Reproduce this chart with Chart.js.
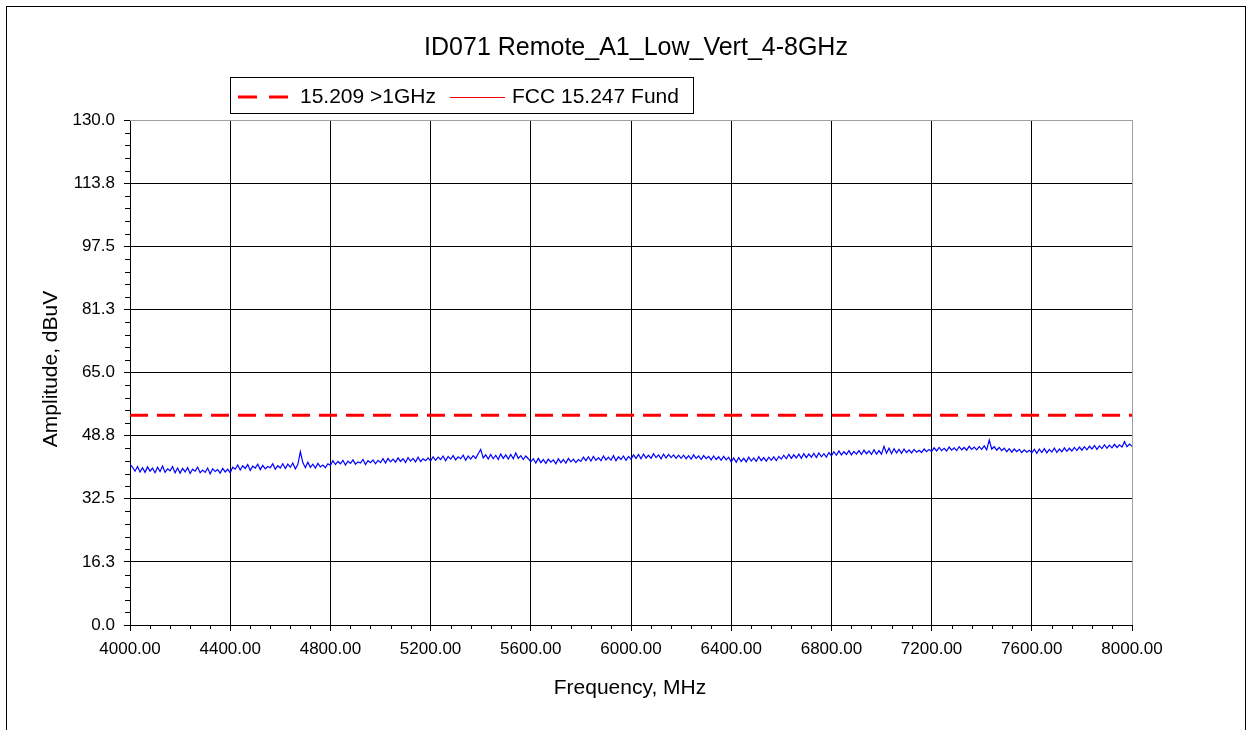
<!DOCTYPE html>
<html>
<head>
<meta charset="utf-8">
<script src="https://cdn.jsdelivr.net/npm/chart.js@4/dist/chart.umd.min.js"></script>
<style>
  body { margin: 0; background: #fff; }
  canvas { display: block; }
</style>
</head>
<body>
<canvas id="grafico" width="1252" height="730"></canvas>
<script>
const titulo = "ID071 Remote_A1_Low_Vert_4-8GHz";
const tituloX = "Frequency, MHz";
const tituloY = "Amplitude, dBuV";

const xTicks = [4000, 4400, 4800, 5200, 5600, 6000, 6400, 6800, 7200, 7600, 8000];
const yTicks = [0, 16.25, 32.5, 48.75, 65, 81.25, 97.5, 113.75, 130];

// varredura: 4000 a 8000 MHz, um ponto a cada 10 MHz
const inicioMHz = 4000;
const passoMHz = 10;
const amplitude = [
  41.4, 40.6, 39.6, 40.8, 39.4, 40.5, 39.3, 40.7, 39.6, 40.4, 39.2, 40.6, 39.5, 40.9, 39.3, 40.2, 39.7, 40.8, 39.2, 40.4,
  39.1, 40.3, 39.4, 40.5, 39.0, 40.1, 39.6, 40.6, 39.2, 39.9, 39.3, 40.4, 38.9, 40.2, 39.5, 40.0, 39.1, 40.3, 39.4, 40.1,
  39.2, 40.6, 40.1, 41.2, 39.9, 41.0, 40.3, 41.3, 39.8, 40.9, 40.4, 41.4, 40.0, 41.1, 40.2, 40.8, 40.5, 41.5, 40.1, 41.0,
  40.4, 41.5, 40.3, 41.4, 40.6, 41.7, 40.2, 41.3, 44.6, 41.8, 40.5, 41.9, 40.6, 41.4, 40.4, 41.6, 40.7, 41.2, 40.5, 41.5,
  41.1, 42.3, 41.3, 42.1, 41.5, 42.4, 41.2, 42.2, 41.6, 42.5, 41.4, 42.0, 41.7, 42.6, 41.3, 42.3, 41.8, 42.5, 41.5, 42.4,
  41.8, 42.8, 41.7, 42.9, 42.0, 42.7, 41.9, 43.0, 42.1, 42.8, 41.8, 43.1, 42.2, 42.9, 42.0, 43.2, 42.1, 42.8, 42.3, 43.0,
  42.2, 43.3, 42.4, 43.2, 42.6, 43.5, 42.3, 43.4, 42.7, 43.6, 42.5, 43.3, 42.8, 43.7, 42.4, 43.5, 42.7, 43.6, 42.9, 44.1,
  45.2, 43.0, 43.8, 42.7, 43.9, 42.8, 43.7, 42.6, 44.0, 42.9, 43.8, 42.7, 43.9, 42.8, 44.3, 42.9, 43.6, 42.6, 43.5, 42.8,
  42.0, 42.8, 41.7, 42.9, 41.8, 42.6, 41.6, 42.7, 41.9, 42.5, 41.5, 42.8, 41.8, 42.6, 41.7, 42.9, 42.0, 42.7, 41.8, 42.6,
  42.1, 43.2, 42.3, 43.3, 42.2, 43.4, 42.4, 43.1, 42.3, 43.5, 42.5, 43.2, 42.4, 43.6, 42.3, 43.3, 42.6, 43.5, 42.4, 43.4,
  42.7, 43.8, 42.9, 43.9, 42.8, 44.0, 43.0, 43.7, 42.9, 44.1, 43.1, 43.8, 42.8, 44.0, 43.0, 43.9, 43.1, 43.8, 42.9, 43.7,
  42.9, 43.7, 42.8, 43.6, 42.7, 43.8, 42.9, 43.5, 42.6, 43.6, 42.8, 43.4, 42.5, 43.5, 42.6, 43.3, 42.4, 43.4, 42.5, 43.2,
  42.0, 43.0, 41.9, 43.1, 42.1, 42.9, 42.0, 43.2, 42.2, 43.0, 42.1, 43.3, 42.3, 43.1, 42.2, 43.2, 42.4, 43.3, 42.3, 43.4,
  42.7, 43.7, 42.8, 43.9, 42.9, 43.8, 43.0, 44.0, 42.9, 44.1, 43.1, 44.0, 43.2, 44.2, 43.1, 44.3, 43.3, 44.1, 43.2, 44.4,
  43.6, 44.6, 43.7, 44.8, 43.8, 44.6, 43.9, 44.9, 43.8, 44.7, 44.0, 44.9, 43.9, 45.0, 44.1, 44.8, 43.9, 45.1, 44.0, 44.9,
  44.0, 46.0, 44.2, 45.5, 44.1, 45.4, 44.3, 45.2, 44.2, 45.3, 44.4, 45.1, 44.3, 45.2, 44.5, 45.0, 44.4, 45.3, 44.6, 45.2,
  44.7, 45.6, 44.8, 45.7, 44.9, 45.5, 44.8, 45.8, 45.0, 45.6, 44.9, 45.9, 45.1, 45.7, 45.0, 46.0, 45.2, 45.8, 45.1, 45.9,
  45.2, 46.1, 45.1, 47.6, 45.3, 45.9, 45.0, 45.7, 44.9, 45.5, 44.6, 45.4, 44.5, 45.3, 44.6, 45.2, 44.4, 45.1, 44.5, 45.0,
  44.3, 45.2, 44.2, 45.3, 44.4, 45.4, 44.3, 45.2, 44.5, 45.5, 44.4, 45.3, 44.6, 45.6, 44.7, 45.5, 44.8, 45.7, 44.9, 45.8,
  45.0, 45.9, 45.1, 46.0, 45.3, 46.2, 45.2, 46.1, 45.4, 46.4, 45.5, 46.3, 45.6, 46.5, 45.7, 46.4, 45.8, 47.2, 45.9, 46.6,
  46.0
];

// limites
const limiteFreqs = [4000, 8000];
const limite15209 = [54.0, 54.0];
const legendaNomes = ["15.209 >1GHz", "FCC 15.247 Fund"];

const fonte = "'Liberation Sans', Arial, sans-serif";
Chart.defaults.font.family = fonte;
Chart.defaults.color = "#000";

const traco = amplitude.map((v, i) => ({ x: inicioMHz + i * passoMHz, y: v }));
const limite = limiteFreqs.map((f, i) => ({ x: f, y: limite15209[i] }));

// desenha moldura, titulo, legenda, titulos dos eixos e ticks menores
const extras = {
    id: "extras",
    afterDraw(chart) {
        const ctx = chart.ctx;
        const a = chart.chartArea;
        const sx = chart.scales.x;
        const sy = chart.scales.y;
        ctx.save();

        // moldura externa
        ctx.strokeStyle = "#000";
        ctx.lineWidth = 1;
        ctx.strokeRect(6.5, 6.5, 1239, 760);

        // borda de cima e da direita em cinza
        ctx.strokeStyle = "#a0a0a0";
        ctx.beginPath();
        ctx.moveTo(a.left, Math.round(a.top) + 0.5);
        ctx.lineTo(a.right + 0.5, Math.round(a.top) + 0.5);
        ctx.moveTo(Math.round(a.right) + 0.5, a.top);
        ctx.lineTo(Math.round(a.right) + 0.5, a.bottom);
        ctx.stroke();

        // ticks menores
        ctx.strokeStyle = "#000";
        ctx.beginPath();
        for (let i = 0; i < yTicks.length - 1; i++) {
            const d = (yTicks[i + 1] - yTicks[i]) / 5;
            for (let k = 1; k < 5; k++) {
                const py = Math.round(sy.getPixelForValue(yTicks[i] + k * d)) + 0.5;
                ctx.moveTo(a.left - 5, py);
                ctx.lineTo(a.left, py);
            }
        }
        for (let i = 0; i < xTicks.length - 1; i++) {
            const d = (xTicks[i + 1] - xTicks[i]) / 5;
            for (let k = 1; k < 5; k++) {
                const px = Math.round(sx.getPixelForValue(xTicks[i] + k * d)) + 0.5;
                ctx.moveTo(px, a.bottom);
                ctx.lineTo(px, a.bottom + 4);
            }
        }
        ctx.stroke();

        // titulo
        ctx.fillStyle = "#000";
        ctx.font = "25px " + fonte;
        ctx.textAlign = "center";
        ctx.textBaseline = "alphabetic";
        ctx.fillText(titulo, 636, 55);

        // titulos dos eixos
        ctx.font = "21px " + fonte;
        ctx.fillText(tituloX, 630, 694);
        ctx.save();
        ctx.translate(57, 369);
        ctx.rotate(-Math.PI / 2);
        ctx.fillText(tituloY, 0, 0);
        ctx.restore();

        // legenda
        ctx.strokeStyle = "#000";
        ctx.lineWidth = 1;
        ctx.strokeRect(230.5, 77.5, 463, 36);

        ctx.strokeStyle = "#ff0000";
        ctx.lineWidth = 3;
        ctx.setLineDash([19, 12]);
        ctx.beginPath();
        ctx.moveTo(238, 97);
        ctx.lineTo(288, 97);
        ctx.stroke();

        ctx.setLineDash([]);
        ctx.strokeStyle = "#ff0000";
        ctx.lineWidth = 1;
        ctx.beginPath();
        ctx.moveTo(450, 97.5);
        ctx.lineTo(505, 97.5);
        ctx.stroke();

        ctx.font = "21px " + fonte;
        ctx.textAlign = "left";
        ctx.textBaseline = "middle";
        ctx.fillText(legendaNomes[0], 300, 97);
        ctx.fillText(legendaNomes[1], 512, 97);

        ctx.restore();
    }
};

const corGrade = topo => ctx => (ctx.tick && ctx.tick.value === topo ? "#a0a0a0" : "#000");

new Chart(document.getElementById("grafico"), {
    type: "line",
    data: {
        datasets: [
            {
                label: "Trace",
                data: traco,
                borderColor: "#0000ff",
                borderWidth: 1.2,
                pointRadius: 0,
                tension: 0
            },
            {
                label: legendaNomes[0],
                data: limite,
                borderColor: "#ff0000",
                borderWidth: 3,
                borderDash: [18, 9],
                pointRadius: 0
            },
            {
                label: legendaNomes[1],
                data: [],
                borderColor: "#ff0000",
                borderWidth: 1,
                pointRadius: 0
            }
        ]
    },
    options: {
        responsive: false,
        animation: false,
        layout: { padding: { top: 120, right: 120, left: 0, bottom: 0 } },
        plugins: {
            legend: { display: false },
            title: { display: false },
            tooltip: { enabled: false }
        },
        scales: {
            x: {
                type: "linear",
                min: 4000,
                max: 8000,
                afterBuildTicks: s => { s.ticks = xTicks.map(v => ({ value: v })); },
                afterFit: s => { s.height = 105; },
                ticks: {
                    font: { size: 17 },
                    color: "#000",
                    padding: 8,
                    maxRotation: 0,
                    callback: v => v.toFixed(2)
                },
                grid: { color: corGrade(8000), tickColor: "#000", tickLength: 6, lineWidth: 1 },
                border: { color: "#000", width: 1 }
            },
            y: {
                min: 0,
                max: 130,
                afterBuildTicks: s => { s.ticks = yTicks.map(v => ({ value: v })); },
                afterFit: s => { s.width = 130; },
                ticks: {
                    font: { size: 17 },
                    color: "#000",
                    padding: 9,
                    callback: v => v.toFixed(1)
                },
                grid: { color: corGrade(130), tickColor: "#000", tickLength: 6, lineWidth: 1 },
                border: { color: "#000", width: 1 }
            }
        }
    },
    plugins: [extras]
});
</script>
</body>
</html>
